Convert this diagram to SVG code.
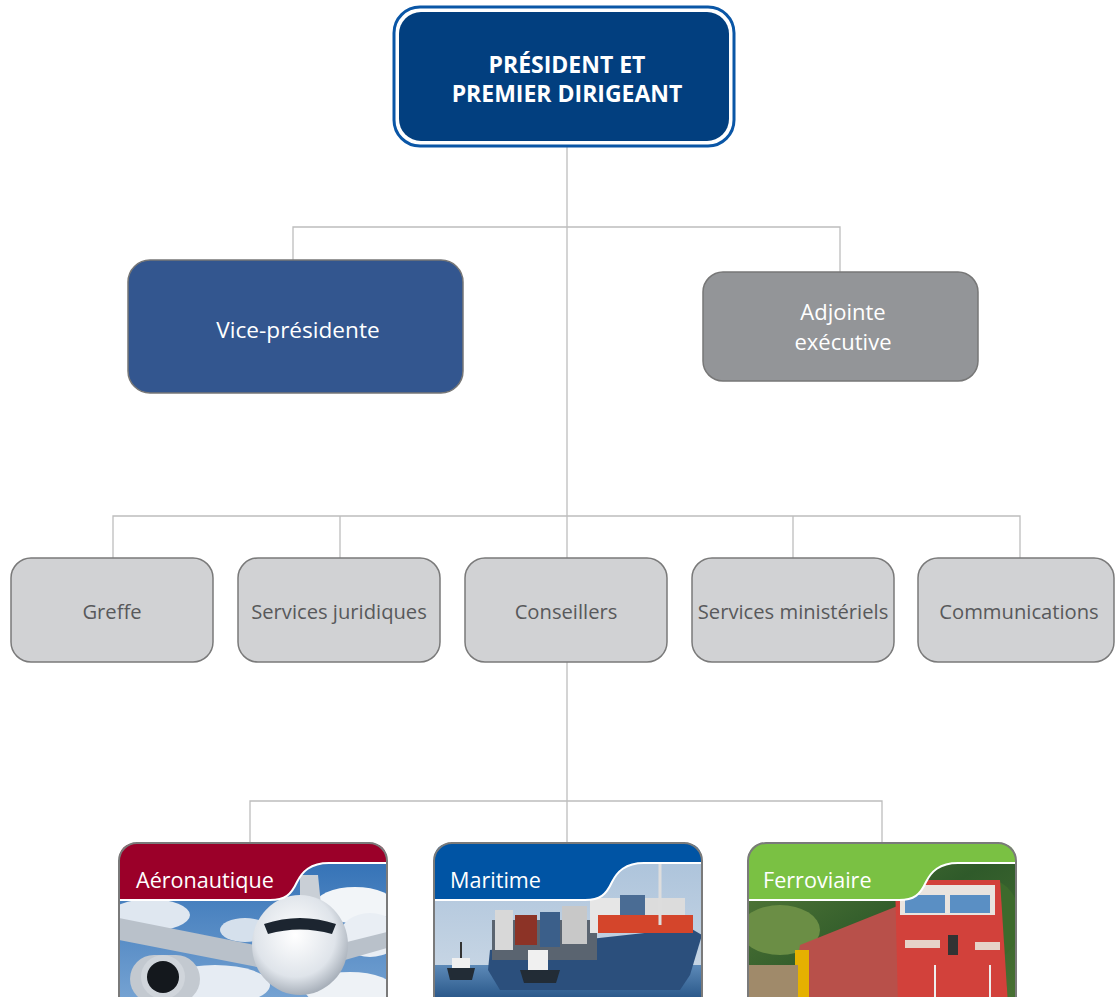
<svg xmlns="http://www.w3.org/2000/svg" width="1115" height="997" viewBox="0 0 1115 997">
<style>
.conn{stroke:#bdbdbd;stroke-width:1.3;fill:none}
.row rect{fill:#d1d2d4;stroke:#7a7a7a;stroke-width:1.5}
.row text{fill:#58595b;font-family:"Open Sans","Noto Sans",sans-serif;font-size:20.2px;text-anchor:middle}
.wt{fill:#ffffff;font-family:"Open Sans","Noto Sans",sans-serif;font-size:22.6px;text-anchor:middle}
.card text{fill:#ffffff;font-family:"Open Sans","Noto Sans",sans-serif;font-size:21.6px}
.frame{fill:none;stroke:#7a7a7a;stroke-width:2}
.seam{fill:none;stroke:#ffffff;stroke-width:2}
</style>
<defs>
<clipPath id="c1"><rect x="119" y="843" width="268" height="175" rx="18"/></clipPath>
<clipPath id="c2"><rect x="434" y="843" width="268" height="175" rx="18"/></clipPath>
<clipPath id="c3"><rect x="748" y="843" width="268" height="175" rx="18"/></clipPath>
<linearGradient id="sky1" x1="0" y1="0" x2="0" y2="1"><stop offset="0" stop-color="#2c6cb3"/><stop offset="1" stop-color="#7ea9d6"/></linearGradient>
<linearGradient id="sky2" x1="0" y1="0" x2="0" y2="1"><stop offset="0" stop-color="#a9c1da"/><stop offset="1" stop-color="#d2dde8"/></linearGradient>
<linearGradient id="sea" x1="0" y1="0" x2="0" y2="1"><stop offset="0" stop-color="#5d8ab8"/><stop offset="1" stop-color="#1f4d80"/></linearGradient>
<radialGradient id="fus" cx="0.45" cy="0.4" r="0.6"><stop offset="0" stop-color="#ffffff"/><stop offset="0.7" stop-color="#dfe4ea"/><stop offset="1" stop-color="#a8b0ba"/></radialGradient>
<linearGradient id="forest" x1="0" y1="0" x2="1" y2="1"><stop offset="0" stop-color="#5a7f3a"/><stop offset="0.5" stop-color="#2f5a2a"/><stop offset="1" stop-color="#4c7434"/></linearGradient>
</defs>

<g id="connectors">
<path class="conn" d="M567 146 V558"/>
<path class="conn" d="M293 260 V227 H840 V272"/>
<path class="conn" d="M113 558 V516 H1020 V558"/>
<path class="conn" d="M340 516 V558"/>
<path class="conn" d="M793 516 V558"/>
<path class="conn" d="M567 662 V843"/>
<path class="conn" d="M250 843 V801 H882 V843"/>
</g>

<g id="president">
<rect x="394" y="7" width="340" height="139" rx="26" fill="#ffffff" stroke="#0a56a6" stroke-width="3"/>
<rect x="399" y="12" width="330" height="129" rx="22" fill="#023f7f"/>
<text fill="#ffffff" font-family="'Open Sans','Noto Sans',sans-serif" font-size="23" font-weight="bold" text-anchor="middle"><tspan x="567" y="73">PRÉSIDENT ET</tspan><tspan x="567" y="102">PREMIER DIRIGEANT</tspan></text>
</g>

<g id="vice-presidente">
<rect x="128" y="260" width="335" height="133" rx="22" fill="#33568f" stroke="#777777" stroke-width="1.5"/>
<text class="wt" x="298" y="338">Vice-présidente</text>
</g>

<g id="adjointe">
<rect x="703" y="272" width="275" height="109" rx="20" fill="#939598" stroke="#777777" stroke-width="1.5"/>
<text class="wt" style="font-size:22px"><tspan x="843" y="320">Adjointe</tspan><tspan x="843" y="350">exécutive</tspan></text>
</g>

<g id="greffe" class="row"><rect x="11" y="558" width="202" height="104" rx="20"/><text x="112" y="619">Greffe</text></g>
<g id="services-juridiques" class="row"><rect x="238" y="558" width="202" height="104" rx="20"/><text x="339" y="619">Services juridiques</text></g>
<g id="conseillers" class="row"><rect x="465" y="558" width="202" height="104" rx="20"/><text x="566" y="619">Conseillers</text></g>
<g id="services-ministeriels" class="row"><rect x="692" y="558" width="202" height="104" rx="20"/><text x="793" y="619">Services ministériels</text></g>
<g id="communications" class="row"><rect x="918" y="558" width="196" height="104" rx="20"/><text x="1019" y="619">Communications</text></g>

<g id="aeronautique" class="card">
<g clip-path="url(#c1)">
<rect x="119" y="843" width="268" height="175" fill="url(#sky1)"/>
<ellipse cx="355" cy="905" rx="40" ry="18" fill="#f2f5f8"/>
<ellipse cx="370" cy="935" rx="30" ry="22" fill="#e9eef4"/>
<ellipse cx="150" cy="915" rx="40" ry="16" fill="#dfe7f0"/>
<ellipse cx="215" cy="985" rx="55" ry="20" fill="#e6ecf3"/>
<ellipse cx="350" cy="990" rx="45" ry="18" fill="#eef2f6"/>
<ellipse cx="245" cy="930" rx="25" ry="12" fill="#d5e0ec"/>
<polygon points="300,875 318,875 322,915 300,915" fill="#c9cfd6"/>
<polygon points="270,948 119,918 119,940 262,968" fill="#b9c1ca"/>
<polygon points="335,945 387,932 387,948 338,962" fill="#b9c1ca"/>
<ellipse cx="300" cy="945" rx="48" ry="50" fill="url(#fus)"/>
<path d="M264 924 Q300 912 336 924 L332 934 Q300 925 268 934 Z" fill="#1c2530"/>
<rect x="130" y="955" width="70" height="48" rx="24" fill="#c3c9d0"/>
<circle cx="163" cy="977" r="22" fill="#d0d5db"/>
<circle cx="163" cy="977" r="16" fill="#14181d"/>
</g>
<path d="M119 861 Q119 843 137 843 H369 Q387 843 387 861 V863 H329 C310 863 302 872 297 882 C291 895 285 900 270 900 H119 Z" fill="#9b0029"/>
<path class="seam" d="M387 863 H329 C310 863 302 872 297 882 C291 895 285 900 270 900 H119"/>
<text x="136" y="888">Aéronautique</text>
<rect class="frame" x="119" y="843" width="268" height="175" rx="18"/>
</g>

<g id="maritime" class="card">
<g clip-path="url(#c2)">
<rect x="434" y="843" width="268" height="175" fill="url(#sky2)"/>
<rect x="434" y="965" width="268" height="40" fill="url(#sea)"/>
<polygon points="490,950 690,928 702,935 690,975 680,990 500,990 488,970" fill="#2b4f7c"/>
<rect x="492" y="920" width="105" height="40" fill="#5a6470"/>
<rect x="495" y="910" width="18" height="40" fill="#d8d8d8"/>
<rect x="515" y="915" width="22" height="30" fill="#8c3326"/>
<rect x="540" y="912" width="20" height="35" fill="#3b5f8a"/>
<rect x="562" y="906" width="25" height="38" fill="#c8c8c8"/>
<rect x="590" y="898" width="30" height="35" fill="#e6e6e6"/>
<rect x="598" y="915" width="95" height="18" fill="#d4452b"/>
<rect x="620" y="895" width="25" height="20" fill="#4a6c94"/>
<rect x="645" y="898" width="40" height="17" fill="#dcdcdc"/>
<line x1="660" y1="862" x2="660" y2="925" stroke="#ddd" stroke-width="3"/>
<polygon points="447,968 475,968 472,980 450,980" fill="#222c36"/>
<rect x="452" y="958" width="18" height="10" fill="#f0f0f0"/>
<line x1="461" y1="942" x2="461" y2="958" stroke="#333" stroke-width="2"/>
<polygon points="520,970 560,970 556,983 524,983" fill="#222c36"/>
<rect x="528" y="950" width="20" height="20" fill="#f0f0f0"/>
</g>
<path d="M434 861 Q434 843 452 843 H684 Q702 843 702 861 V863 H644 C625 863 617 872 612 882 C606 895 600 900 585 900 H434 Z" fill="#0054a4"/>
<path class="seam" d="M702 863 H644 C625 863 617 872 612 882 C606 895 600 900 585 900 H434"/>
<text x="450" y="888">Maritime</text>
<rect class="frame" x="434" y="843" width="268" height="175" rx="18"/>
</g>

<g id="ferroviaire" class="card">
<g clip-path="url(#c3)">
<rect x="748" y="843" width="268" height="175" fill="url(#forest)"/>
<ellipse cx="780" cy="930" rx="40" ry="25" fill="#6b8e45"/>
<ellipse cx="990" cy="920" rx="30" ry="40" fill="#3d6a2c"/>
<ellipse cx="770" cy="985" rx="30" ry="20" fill="#587a38"/>
<polygon points="800,945 900,905 905,1005 790,1005" fill="#b8504a"/>
<polygon points="895,880 1000,880 1008,1005 898,1005" fill="#d2413b"/>
<rect x="900" y="885" width="95" height="30" fill="#e9e4df"/>
<rect x="905" y="895" width="40" height="18" fill="#5a8fc4"/>
<rect x="950" y="895" width="40" height="18" fill="#5a8fc4"/>
<rect x="948" y="935" width="10" height="20" fill="#333"/>
<rect x="905" y="940" width="35" height="8" fill="#e6d2c8"/>
<rect x="975" y="942" width="25" height="8" fill="#e6d2c8"/>
<line x1="935" y1="965" x2="935" y2="1005" stroke="#eee" stroke-width="2"/>
<line x1="990" y1="965" x2="990" y2="1005" stroke="#eee" stroke-width="2"/>
<rect x="795" y="950" width="14" height="55" fill="#e5b100"/>
<rect x="748" y="965" width="50" height="40" fill="#a08a6a"/>
</g>
<path d="M748 861 Q748 843 766 843 H998 Q1016 843 1016 861 V863 H958 C939 863 931 872 926 882 C920 895 914 900 899 900 H748 Z" fill="#7ac143"/>
<path class="seam" d="M1016 863 H958 C939 863 931 872 926 882 C920 895 914 900 899 900 H748"/>
<text x="763" y="888">Ferroviaire</text>
<rect class="frame" x="748" y="843" width="268" height="175" rx="18"/>
</g>
</svg>
